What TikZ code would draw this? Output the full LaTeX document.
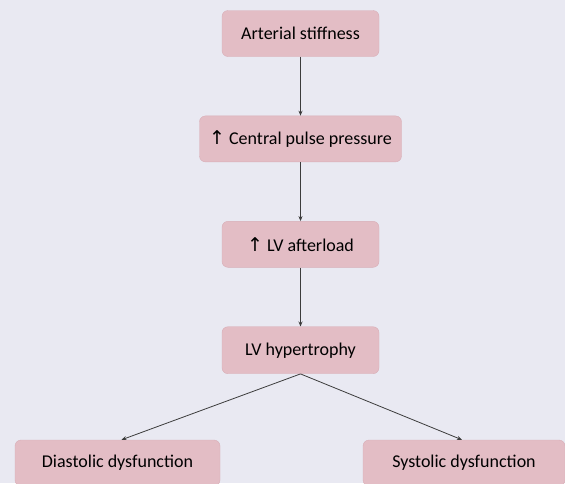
\documentclass[tikz,border=0pt]{standalone}
\usepackage{fontspec}
\setmainfont{Carlito}
\newfontfamily\arrowfont{DejaVu Sans}
\usetikzlibrary{positioning}
\usetikzlibrary{arrows.meta}
\definecolor{bgpanel}{HTML}{E9E9F2}
\definecolor{boxfill}{HTML}{E3BDC5}
\definecolor{boxline}{HTML}{D8AEB7}
\definecolor{linkgrey}{HTML}{3C3C3C}
\newcommand{\upmark}{{\arrowfont\fontsize{19}{21}\selectfont ↑}}
\tikzset{
	punkt/.style={
		rectangle,
		rounded corners=6pt,
		fill=boxfill,
		draw=boxline, thin,
		minimum width=157pt,
		minimum height=46pt,
		text centered,
		text=black,
		font=\fontsize{18}{21}\selectfont},
	link/.style={draw=linkgrey, thick, -{Stealth[length=5pt,width=4pt]}},
}
\begin{document}
\begin{tikzpicture}
		[x=1pt,y=1pt,node distance=59pt]
		
		\fill[bgpanel] (0,0) rectangle (565,-483);
		\useasboundingbox (0,0) rectangle (565,-483);
		\clip (0,0) rectangle (565,-483);
		
		\node[punkt] (stiff) at (300.5,-33.5) {Arterial stiffness};
		\node[punkt, minimum width=202pt, below=of stiff] (pulse) {\upmark\ Central pulse pressure};
		\node[punkt, below=of pulse] (afterload) {\upmark\ LV afterload};
		\node[punkt, minimum height=47pt, below=of afterload] (hyper) {LV hypertrophy};
		
		% the two outcomes
		\node[punkt, minimum width=205pt] (diast) at (117.5,-463) {Diastolic dysfunction};
		\node[punkt, minimum width=202pt] (syst) at (464,-463) {Systolic dysfunction};
		
		\path[link] (stiff) -- (pulse);
		\path[link] (pulse) -- (afterload);
		\path[link] (afterload) -- (hyper);
		\path[link] (hyper.south) -- ([xshift=4pt]diast.north);
		\path[link] (hyper.south) -- ([xshift=-2pt]syst.north);
		
\end{tikzpicture}
\end{document}
